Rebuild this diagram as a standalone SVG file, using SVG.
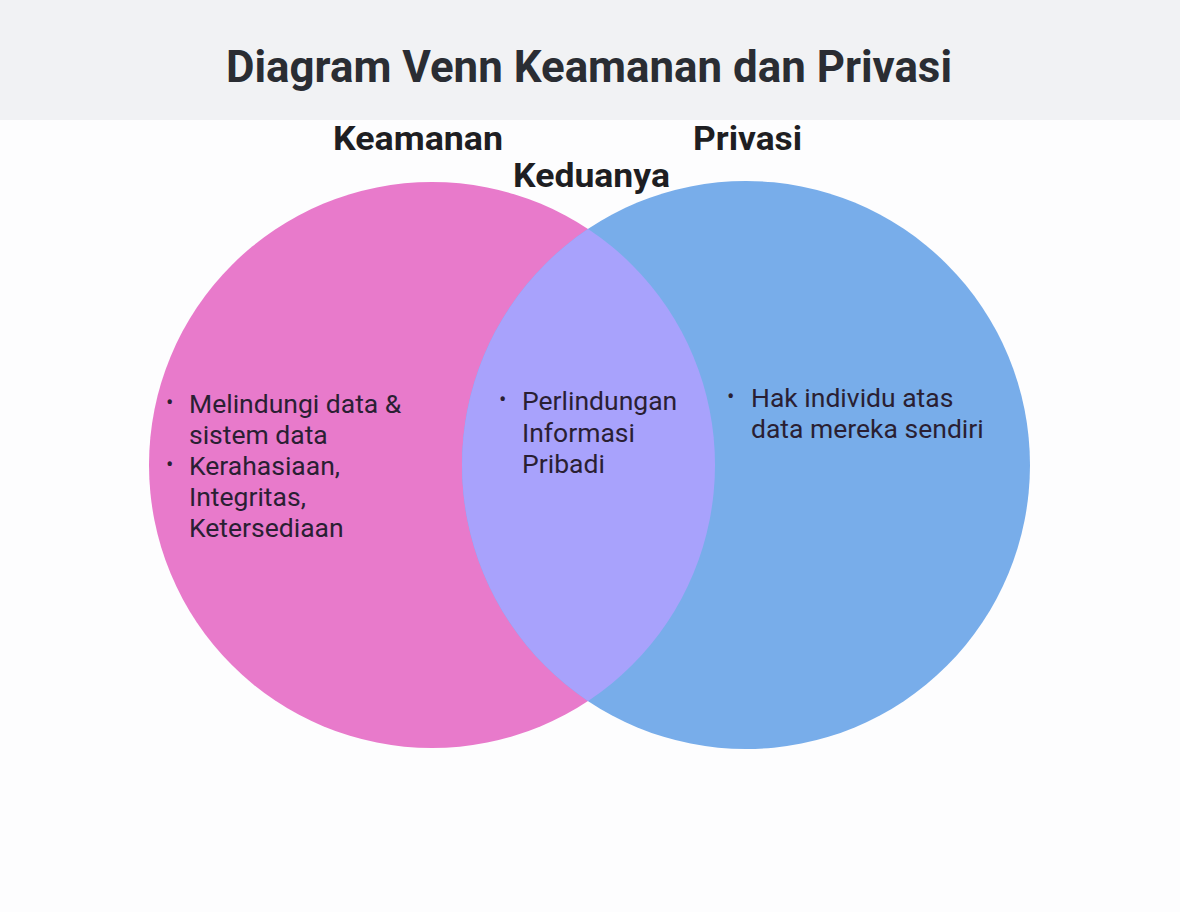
<svg xmlns="http://www.w3.org/2000/svg" width="1180" height="912" viewBox="0 0 1180 912">
<style>
.title{font-family:Roboto,"Liberation Sans",sans-serif;font-weight:700;font-size:45px;fill:#2a2d33}
.label{font-family:Roboto,"Liberation Sans",sans-serif;font-weight:700;font-size:34px;fill:#1e1e22}
.body{font-family:Roboto,"Liberation Sans",sans-serif;font-size:26.5px;fill:#2a1f33}
.dot{font-family:Roboto,"Liberation Sans",sans-serif;font-size:22px;fill:#2a1f33}
</style>
<defs>
<clipPath id="clipL"><circle cx="432" cy="465" r="283"/></clipPath>
</defs>
<rect x="0" y="0" width="1180" height="912" fill="#fdfdfe"/>
<rect x="0" y="0" width="1180" height="120" fill="#f1f2f4"/>
<text class="title" x="226" y="82" textLength="726" lengthAdjust="spacingAndGlyphs">Diagram Venn Keamanan dan Privasi</text>
<g id="keamanan">
<circle cx="432" cy="465" r="283" fill="#e87acb"/>
<text class="label" x="333" y="150" textLength="170" lengthAdjust="spacingAndGlyphs">Keamanan</text>
<text class="dot" x="166" y="410">•</text>
<text class="body" x="189" y="413">Melindungi data &amp;</text>
<text class="body" x="189" y="444">sistem data</text>
<text class="dot" x="166" y="472">•</text>
<text class="body" x="189" y="475">Kerahasiaan,</text>
<text class="body" x="189" y="506">Integritas,</text>
<text class="body" x="189" y="537">Ketersediaan</text>
</g>
<g id="privasi">
<circle cx="746" cy="465" r="284" fill="#78adea"/>
<text class="label" x="693" y="150" textLength="109" lengthAdjust="spacingAndGlyphs">Privasi</text>
<text class="dot" x="727" y="404">•</text>
<text class="body" x="751" y="407">Hak individu atas</text>
<text class="body" x="751" y="438">data mereka sendiri</text>
</g>
<g id="keduanya">
<circle cx="746" cy="465" r="284" fill="#a8a2fc" clip-path="url(#clipL)"/>
<text class="label" x="513" y="187" textLength="157" lengthAdjust="spacingAndGlyphs">Keduanya</text>
<text class="dot" x="499" y="407">•</text>
<text class="body" x="522" y="410">Perlindungan</text>
<text class="body" x="522" y="442">Informasi</text>
<text class="body" x="522" y="473">Pribadi</text>
</g>
<g id="connectors"></g>
</svg>
